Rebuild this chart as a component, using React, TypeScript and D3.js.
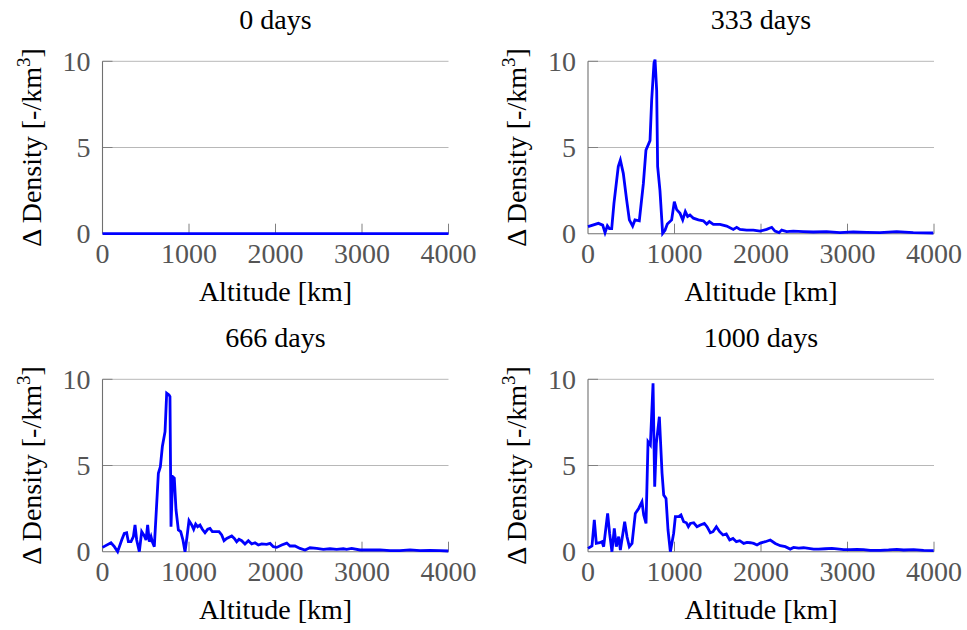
import React from "react";
import * as d3 from "d3";

const titles = ["0 days", "333 days", "666 days", "1000 days"];
const xTicks = [0, 1000, 2000, 3000, 4000];
const yTicks = [0, 5, 10];

const alt0 = [0, 4000];
const val0 = [0, 0];

const alt333 = [0, 120, 170, 197, 224, 247, 274, 300, 350, 374, 408, 447, 478, 516, 543, 593, 640, 670, 717, 736, 763, 775, 794, 805, 832, 863, 890, 917, 967, 998, 1025, 1064, 1095, 1125, 1152, 1179, 1218, 1276, 1333, 1372, 1403, 1449, 1526, 1603, 1680, 1719, 1757, 1834, 1911, 1989, 2066, 2124, 2162, 2208, 2239, 2296, 2373, 2489, 2604, 2758, 2913, 3067, 3221, 3375, 3568, 3760, 3992];
const val333 = [0.41, 0.6, 0.5, 0.06, 0.46, 0.3, 0.3, 1.76, 3.9, 4.27, 3.5, 1.95, 0.8, 0.44, 0.8, 0.75, 2.9, 4.85, 5.4, 7.75, 9.9, 10.1, 8.3, 3.9, 2.5, 0.02, 0.2, 0.56, 0.8, 1.86, 1.4, 1.18, 0.8, 1.28, 1.0, 1.08, 0.9, 0.8, 0.75, 0.56, 0.7, 0.54, 0.54, 0.44, 0.25, 0.37, 0.25, 0.21, 0.21, 0.15, 0.25, 0.37, 0.15, 0.06, 0.21, 0.12, 0.15, 0.12, 0.1, 0.12, 0.06, 0.1, 0.08, 0.06, 0.12, 0.06, 0.04];

const alt666 = [0, 98, 137, 175, 222, 252, 279, 299, 330, 357, 376, 395, 426, 453, 484, 503, 522, 541, 561, 576, 599, 646, 669, 692, 723, 742, 769, 780, 792, 811, 830, 850, 877, 904, 930, 954, 977, 1000, 1031, 1054, 1077, 1100, 1127, 1154, 1185, 1216, 1243, 1270, 1308, 1347, 1378, 1405, 1436, 1494, 1524, 1551, 1578, 1609, 1647, 1686, 1725, 1763, 1802, 1840, 1898, 1937, 1975, 2014, 2072, 2130, 2168, 2225, 2283, 2341, 2399, 2476, 2553, 2630, 2707, 2784, 2823, 2880, 2977, 3092, 3208, 3324, 3439, 3555, 3671, 3786, 3902, 3998];
const val666 = [0.25, 0.52, 0.29, 0, 0.68, 1.06, 1.1, 0.58, 0.58, 0.87, 1.55, 0.68, 0, 1.16, 0.91, 0.68, 1.55, 0.58, 0.87, 0.58, 0.29, 4.55, 4.93, 6.1, 6.96, 9.19, 9.09, 9.0, 1.45, 4.35, 4.26, 2.42, 1.26, 1.16, 0.68, 0, 0.87, 1.8, 1.55, 1.3, 1.6, 1.45, 1.55, 1.3, 1.1, 1.3, 1.35, 1.16, 1.16, 1.16, 0.97, 0.64, 0.77, 0.91, 0.77, 0.58, 0.72, 0.64, 0.45, 0.64, 0.45, 0.52, 0.39, 0.45, 0.43, 0.48, 0.29, 0.25, 0.39, 0.5, 0.33, 0.33, 0.19, 0.1, 0.23, 0.19, 0.14, 0.17, 0.14, 0.17, 0.14, 0.19, 0.1, 0.1, 0.1, 0.06, 0.06, 0.1, 0.06, 0.08, 0.06, 0.04];

const alt1000 = [0, 46, 73, 96, 135, 162, 181, 227, 250, 277, 304, 327, 355, 374, 424, 451, 478, 509, 547, 586, 624, 644, 671, 694, 721, 752, 771, 790, 825, 856, 875, 902, 925, 952, 990, 1010, 1048, 1075, 1106, 1137, 1160, 1183, 1222, 1260, 1299, 1345, 1376, 1414, 1445, 1484, 1522, 1561, 1599, 1638, 1676, 1715, 1754, 1800, 1838, 1877, 1915, 1954, 1992, 2050, 2107, 2165, 2223, 2281, 2338, 2377, 2435, 2492, 2550, 2608, 2666, 2743, 2820, 2878, 2955, 3032, 3109, 3186, 3263, 3379, 3475, 3571, 3649, 3764, 3880, 3996];
const val1000 = [0.19, 0.33, 1.84, 0.48, 0.52, 0.58, 0.29, 2.22, 1.06, 0, 1.35, 0.29, 0.87, 0.1, 1.74, 0.87, 0.29, 0.48, 2.22, 2.51, 2.9, 2.13, 1.64, 6.38, 6.19, 9.77, 3.77, 6.29, 7.83, 4.55, 3.29, 3.09, 1.26, 0, 1.06, 2.03, 2.03, 2.13, 1.74, 1.68, 1.45, 1.64, 1.68, 1.45, 1.55, 1.64, 1.45, 1.1, 1.16, 1.45, 1.16, 0.97, 1.03, 0.68, 0.77, 0.58, 0.64, 0.48, 0.54, 0.52, 0.48, 0.39, 0.5, 0.58, 0.68, 0.48, 0.35, 0.29, 0.15, 0.25, 0.21, 0.23, 0.19, 0.15, 0.15, 0.17, 0.19, 0.17, 0.12, 0.12, 0.14, 0.12, 0.08, 0.08, 0.1, 0.14, 0.1, 0.12, 0.08, 0.06];

const seriesAlt = [alt0, alt333, alt666, alt1000];
const seriesVal = [val0, val333, val666, val1000];

const W = 967;
const H = 630;
const FONT = '"Liberation Serif", "Times New Roman", Times, "DejaVu Serif", serif';
const panelLeft = [102.5, 588];
const panelTop = [61.3, 379.3];
const PW = 346;
const PH = 172.4;

const txt = (size: number, fill: string) => ({ fontFamily: FONT, fontSize: size + "px", fill });

function Panel({ idx }: { idx: number }) {
  const left = panelLeft[idx % 2];
  const top = panelTop[Math.floor(idx / 2)];
  const x = d3.scaleLinear().domain([0, 4000]).range([left, left + PW]);
  const y = d3.scaleLinear().domain([0, 10]).range([top + PH, top]);
  const pts: [number, number][] = seriesAlt[idx].map((a, i) => [a, seriesVal[idx][i]]);
  const line = d3
    .line<[number, number]>()
    .x((d) => x(d[0]))
    .y((d) => y(d[1]));
  const bottom = y(0);
  return (
    <g>
      {yTicks
        .filter((t) => t > 0)
        .map((t) => (
          <line key={"g" + t} x1={left} x2={left + PW} y1={y(t)} y2={y(t)} stroke="#b8b8b8" strokeWidth={1} />
        ))}
      {yTicks
        .filter((t) => t > 0)
        .map((t) => (
          <line key={"yt" + t} x1={left} x2={left + 10} y1={y(t)} y2={y(t)} stroke="#808080" strokeWidth={1} />
        ))}
      {xTicks
        .filter((t) => t > 0)
        .map((t) => (
          <line key={"xt" + t} x1={x(t)} x2={x(t)} y1={bottom} y2={bottom - 10} stroke="#808080" strokeWidth={1} />
        ))}
      <line x1={left} x2={left} y1={top} y2={bottom} stroke="#707070" strokeWidth={1.1} />
      <line x1={left} x2={left + PW} y1={bottom} y2={bottom} stroke="#707070" strokeWidth={1.1} />
      <path d={line(pts) || ""} fill="none" stroke="#0000ff" strokeWidth={2.8} strokeLinejoin="miter" strokeMiterlimit={4} />
      {yTicks.map((t) => (
        <text key={"yl" + t} x={left - 12} y={y(t) + 9.5} textAnchor="end" style={txt(28, "#555")}>
          {t}
        </text>
      ))}
      {xTicks.map((t) => (
        <text key={"xl" + t} x={x(t)} y={bottom + 29.5} textAnchor="middle" style={txt(28, "#555")}>
          {t}
        </text>
      ))}
      <text x={left + PW / 2} y={top - 32.5} textAnchor="middle" style={txt(28, "#000")}>
        {titles[idx]}
      </text>
      <text x={left + PW / 2} y={bottom + 67} textAnchor="middle" style={txt(28, "#000")}>
        Altitude [km]
      </text>
      <text
        transform={`translate(${left - 62},${top + PH / 2}) rotate(-90)`}
        textAnchor="middle"
        style={txt(28, "#000")}
      >
        <tspan>Δ Density [-/km</tspan>
        <tspan style={{ fontSize: "19px" }} dy={-11}>3</tspan>
        <tspan dy={11}>]</tspan>
      </text>
    </g>
  );
}

export default function App() {
  return (
    <svg width={W} height={H} style={{ display: "block", position: "absolute", left: 0, top: 0, background: "#fff" }}>
      <rect width={W} height={H} fill="#fff" />
      {[0, 1, 2, 3].map((i) => (
        <Panel key={i} idx={i} />
      ))}
    </svg>
  );
}
